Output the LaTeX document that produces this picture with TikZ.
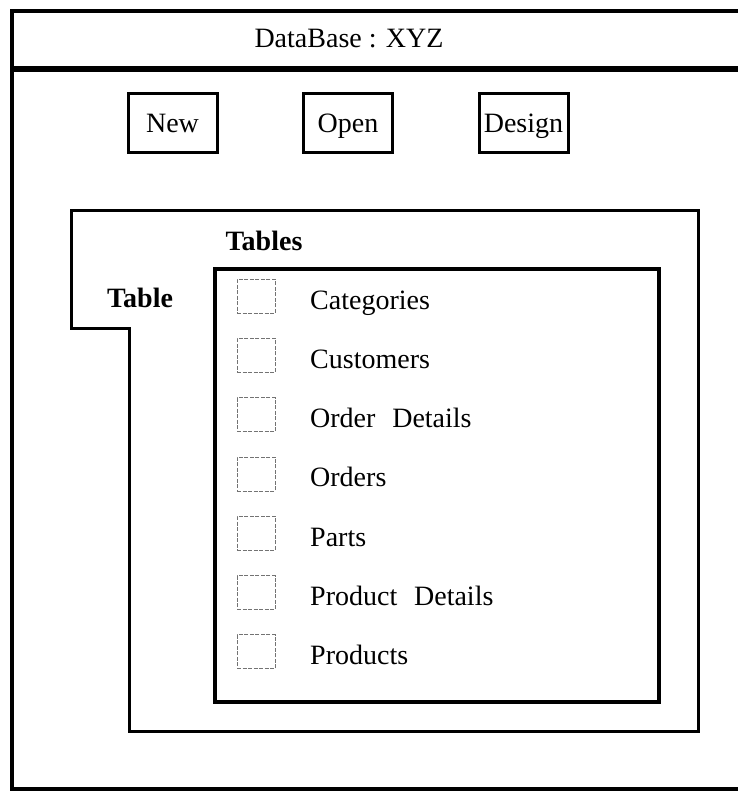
\documentclass[tikz,border=0pt]{standalone}
\usepackage{fontspec}
\setmainfont{Liberation Serif}
\usetikzlibrary{positioning}
\newcommand{\fsz}{\fontsize{28}{33}\selectfont}
\tikzset{
  btn/.style={draw,line width=3pt,minimum width=89pt,minimum height=59pt,
              text height=18.5pt,text depth=0pt,inner sep=0pt,font=\fsz},
  chk/.style={draw=black!55,line width=0.8pt,dash pattern=on 4pt off 1.5pt,
              minimum width=38pt,minimum height=34pt,inner sep=0pt},
  item/.style={anchor=base west,inner sep=0pt,font=\fsz},
  hd/.style={font=\fsz\bfseries,inner sep=0pt}
}

\begin{document}
\begin{tikzpicture}[x=1pt,y=-1pt,
  frame/.style={line width=4.5pt},
  pane/.style={line width=3pt}]
  \useasboundingbox (0,0) rectangle (738,792);
  \clip (0,0) rectangle (738,792);

  % window, open to the right
  \draw[frame] (750,11) -- (12,11) -- (12,789) -- (750,789);
  \draw[line width=5pt] (12,69) -- (750,69);
  \node[font=\fsz,anchor=base] (title) at (349,48) {DataBase : XYZ};

  \node[btn] (new)    at (172.5,123) {New};
  \node[btn] (open)   at (348,123)   {Open};
  \node[btn] (design) at (523.5,123) {Design};

  % tab pane
  \draw[pane] (71,210) -- (698,210) -- (698,731) -- (129,731)
              -- (129,328) -- (71,328) -- cycle;
  \node[hd] (tabhead) at (140,298) {Table};
  \node[hd] (tables)  at (264,241) {Tables};
  \draw[pane,line width=3.5pt] (215,269) rectangle (659,702);

  \node[chk] (cbcat)  at (256,296)   {};
  \node[chk] (cbcus)  at (256,355.3) {};
  \node[chk] (cbodet) at (256,414.6) {};
  \node[chk] (cbord)  at (256,473.9) {};
  \node[chk] (cbpart) at (256,533.2) {};
  \node[chk] (cbpdet) at (256,592.5) {};
  \node[chk] (cbprod) at (256,651.8) {};

  \node[item] (cat)  at (310,309)   {Categories};
  \node[item] (cus)  at (310,368.3) {Customers};
  \node[item] (odet) at (310,427.6) {Order\hspace{0.6em}Details};
  \node[item] (ord)  at (310,486.9) {Orders};
  \node[item] (part) at (310,546.2) {Parts};
  \node[item] (pdet) at (310,605.5) {Product\hspace{0.6em}Details};
  \node[item] (prod) at (310,664.8) {Products};
\end{tikzpicture}
\end{document}
